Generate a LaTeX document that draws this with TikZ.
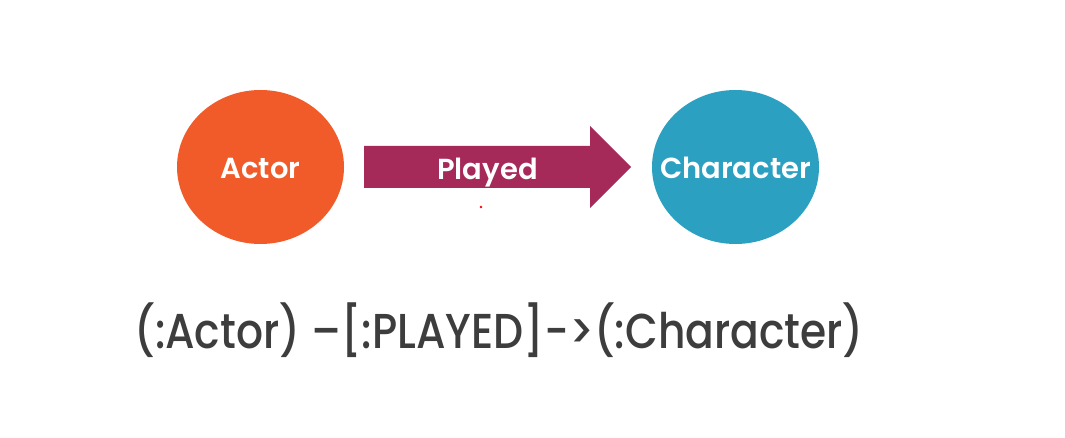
\documentclass[tikz,border=0pt]{standalone}
\usepackage{fontspec}
\setmainfont{Poppins}[BoldFont=* SemiBold]
\newfontfamily\codefont{Poppins}[UprightFont=* Medium]
\definecolor{actororange}{RGB}{241,90,41}
\definecolor{playedred}{RGB}{166,42,89}
\definecolor{charteal}{RGB}{44,160,192}
\definecolor{codegray}{RGB}{61,61,61}
\usetikzlibrary{shapes.geometric}
\tikzset{
  entity/.style={ellipse, minimum width=167pt, minimum height=154pt, inner sep=0pt},
  whitelabel/.style={text=white, font=\bfseries\fontsize{29}{34}\selectfont, inner sep=0pt, anchor=base},
}
\begin{document}
\begin{tikzpicture}[x=1pt,y=-1pt]
\useasboundingbox (0,0) rectangle (1065,438);
\fill[white] (0,0) rectangle (1065,438);
\node[entity, fill=actororange] (actor) at (260.5,167) {};
\node[whitelabel] (actorlabel) at (260.5,179) {Actor};
\node[entity, fill=charteal] (character) at (735.5,167) {};
\node[whitelabel] (charlabel) at (735.5,179) {Character};
\coordinate (tip) at (631,167);
\fill[playedred] (364,146) -- (590,146) -- (590,126) -- (tip) -- (590,208) -- (590,188) -- (364,188) -- cycle;
\node[whitelabel] (played) at (487.5,179.5) {Played};
\fill[red] (481,207) circle (1.4);
\node[text=codegray, font=\codefont\fontsize{49}{56}\selectfont, inner sep=0pt, anchor=base, xscale=0.865] (code) at (499,348) {(:Actor) –[:PLAYED]->(:Character)};
\end{tikzpicture}
\end{document}
